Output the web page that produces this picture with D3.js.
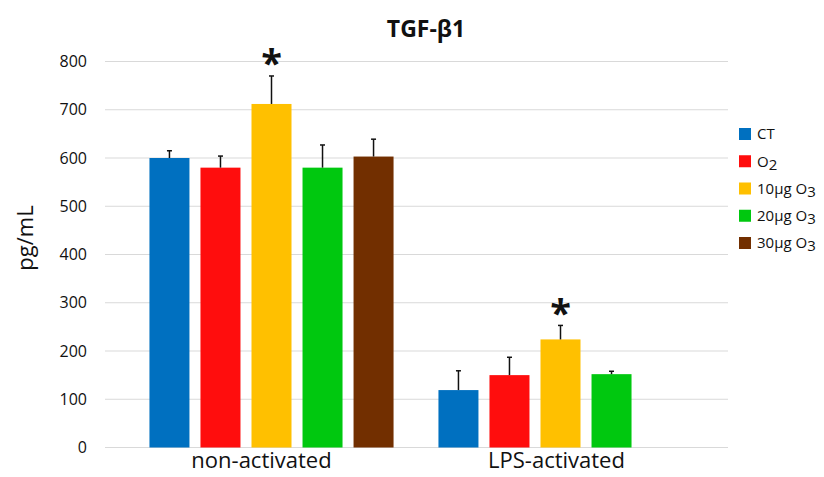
<!DOCTYPE html>
<html>
<head>
<meta charset="utf-8">
<script src="https://cdn.jsdelivr.net/npm/d3@7"></script>
<style>
  body { margin: 0; background: #fff; }
  svg { font-family: "Open Sans", "DejaVu Sans", sans-serif; }
</style>
</head>
<body>
<svg id="chart" width="824" height="477"></svg>
<script>
// data
var groups = ["non-activated", "LPS-activated"];
var seriesKeys = ["CT", "O2", "10ug", "20ug", "30ug"];
var colors = ["#0070C0", "#FF0D0D", "#FFC000", "#00C80F", "#722F00"];
var nonActivated = [600, 580, 712, 580, 603];
var nonActivatedErr = [15, 24, 58, 47, 36];
var lpsActivated = [119, 150, 224, 152, null];
var lpsActivatedErr = [40, 37, 29, 6, null];
var significant = [[false, false, true, false, false], [false, false, true, false, false]];
var yTicks = [0, 100, 200, 300, 400, 500, 600, 700, 800];
// legend labels: [main, subscript]
var legendLabels = [["CT", ""], ["O", "2"], ["10µg O", "3"], ["20µg O", "3"], ["30µg O", "3"]];

var values = [nonActivated, lpsActivated];
var errors = [nonActivatedErr, lpsActivatedErr];

var svg = d3.select("#chart");

var y = d3.scaleLinear().domain([0, 800]).range([447.5, 61.5]);
var x0 = d3.scaleBand().domain(groups).range([127, 705]);
var x1 = d3.scaleBand().domain(seriesKeys).range([0, x0.bandwidth()])
    .paddingInner(0.216).paddingOuter(0.44);

// gridlines
svg.append("g")
    .selectAll("line")
    .data(yTicks)
    .enter()
    .append("line")
    .attr("x1", 105)
    .attr("x2", 728)
    .attr("y1", d => y(d))
    .attr("y2", d => y(d))
    .attr("stroke", "#d9d9d9")
    .attr("stroke-width", 1);

// y tick labels
svg.append("g")
    .selectAll("text")
    .data(yTicks)
    .enter()
    .append("text")
    .attr("x", 87)
    .attr("y", d => y(d))
    .attr("dy", "0.35em")
    .attr("text-anchor", "end")
    .style("font-size", "16px")
    .attr("fill", "#111")
    .text(d => d);

// y axis title
svg.append("text")
    .attr("transform", "translate(33,238) rotate(-90)")
    .attr("text-anchor", "middle")
    .style("font-size", "22px")
    .attr("fill", "#111")
    .text("pg/mL");

// title
svg.append("text")
    .attr("x", 426)
    .attr("y", 37)
    .attr("text-anchor", "middle")
    .style("font-size", "23px")
    .style("font-weight", "bold")
    .attr("fill", "#111")
    .text("TGF-β1");

// bars
var barData = [];
groups.forEach((g, gi) => {
    seriesKeys.forEach((s, si) => {
        if (values[gi][si] != null) {
            barData.push({group: g, key: s, color: colors[si], value: values[gi][si],
                err: errors[gi][si], star: significant[gi][si]});
        }
    });
});

var barG = svg.append("g");
barG.selectAll("rect")
    .data(barData)
    .enter()
    .append("rect")
    .attr("x", d => x0(d.group) + x1(d.key))
    .attr("y", d => y(d.value))
    .attr("width", x1.bandwidth())
    .attr("height", d => y(0) - y(d.value))
    .attr("fill", d => d.color);

// error bars (upper only)
var errG = svg.append("g").attr("stroke", "#111").attr("stroke-width", 1.5);
errG.selectAll("line.stem")
    .data(barData)
    .enter()
    .append("line")
    .attr("class", "stem")
    .attr("x1", d => x0(d.group) + x1(d.key) + x1.bandwidth() / 2)
    .attr("x2", d => x0(d.group) + x1(d.key) + x1.bandwidth() / 2)
    .attr("y1", d => y(d.value))
    .attr("y2", d => y(d.value + d.err));
errG.selectAll("line.cap")
    .data(barData)
    .enter()
    .append("line")
    .attr("class", "cap")
    .attr("x1", d => x0(d.group) + x1(d.key) + x1.bandwidth() / 2 - 2.5)
    .attr("x2", d => x0(d.group) + x1(d.key) + x1.bandwidth() / 2 + 2.5)
    .attr("y1", d => y(d.value + d.err))
    .attr("y2", d => y(d.value + d.err));

// asterisks
svg.append("g")
    .selectAll("text")
    .data(barData.filter(d => d.star))
    .enter()
    .append("text")
    .attr("x", d => x0(d.group) + x1(d.key) + x1.bandwidth() / 2)
    .attr("y", d => y(d.value + d.err) - 26)
    .attr("dy", "0.72em")
    .attr("text-anchor", "middle")
    .style("font-size", "38px")
    .style("font-weight", "bold")
    .attr("fill", "#111")
    .text("*");

// category labels
svg.append("g")
    .selectAll("text")
    .data(groups)
    .enter()
    .append("text")
    .attr("x", d => x0(d) + x0.bandwidth() / 2 - (d == "non-activated" ? 10 : 4))
    .attr("y", 468)
    .attr("text-anchor", "middle")
    .style("font-size", "22px")
    .attr("fill", "#111")
    .text(d => d);

// legend
var legend = svg.append("g").attr("class", "legend");
var legendRow = d3.scalePoint().domain(seriesKeys).range([134, 243]);
var rows = legend.selectAll("g")
    .data(seriesKeys)
    .enter()
    .append("g")
    .attr("transform", d => "translate(739," + legendRow(d) + ")");
rows.append("rect")
    .attr("x", 0)
    .attr("y", -6)
    .attr("width", 12)
    .attr("height", 12)
    .attr("fill", (d, i) => colors[i]);
var lt = rows.append("text")
    .attr("x", 18)
    .attr("dy", "0.35em")
    .style("font-size", "15px")
    .attr("fill", "#111");
lt.append("tspan").text((d, i) => legendLabels[i][0]);
lt.append("tspan")
    .attr("dy", "3")
    .text((d, i) => legendLabels[i][1]);
</script>
</body>
</html>
